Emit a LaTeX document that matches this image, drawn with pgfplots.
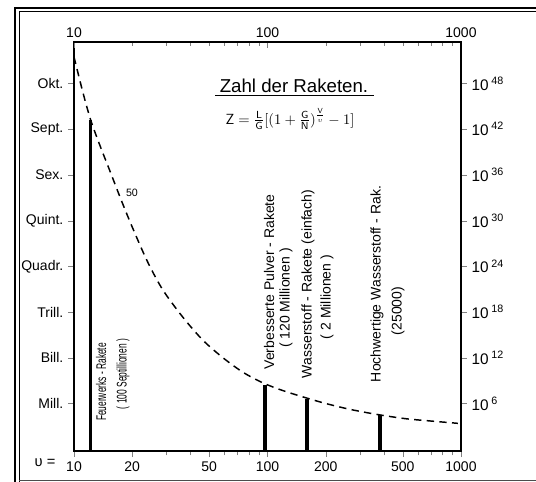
\documentclass[border=0pt]{standalone}
\usepackage{fontspec}
\setmainfont{Liberation Sans}
\usepackage{graphicx}
\usepackage{pgfplots}
\pgfplotsset{compat=1.18}
\begin{document}
\begin{tikzpicture}
\begin{scope}[x=0.75pt,y=-0.75pt]
\path[use as bounding box] (0,0) rectangle (536,482);
\draw[line width=0.9pt] (15,482)--(15,8)--(536,8);
\draw[line width=0.6pt] (19,482)--(19,11)--(536,11);
\draw[line width=1.2pt, black!70] (19,480.5)--(536,480.5);
\end{scope}
% main axis: box, bottom and left ticks, data
\begin{axis}[
  at={(55.5pt,-338.25pt)}, anchor=south west, scale only axis,
  width=290.25pt, height=306.75pt,
  xmode=log, ymode=log, xmin=10, xmax=1000, ymin=0.583, ymax=2.8e53,
  axis line style={line width=1.3pt},
  major tick length=4.5pt, minor tick length=3.2pt,
  tick label style={font=\fontsize{10.5}{12}\selectfont},
  xtick={10,20,50,100,200,500,1000},
  xticklabels={10,20,50,100,200,500,1000},
  minor xtick={30,40,60,70,80,90,300,400,600,700,800,900},
  xtick pos=bottom, ytick pos=left, tick align=outside,
  ytick={1e6,1e12,1e18,1e24,1e30,1e36,1e42,1e48},
  yticklabels={Mill.,Bill.,Trill.,Quadr.,Quint.,Sex.,Sept.,Okt.},
  yminorticks=false,
]
\addplot[black, line width=1.1pt, dash pattern=on 5.5pt off 4pt, smooth] coordinates {
(10,3.2e51) (11.1,7.9e46) (12.2,1.6e43) (13.6,7.9e39) (15.4,2.5e36) (17.6,4e32)
(20.2,7.9e28) (24,4e24) (28.8,7.9e20) (36.6,2e17) (46.4,2e14) (58.9,1e12)
(74.7,1.26e10) (94.8,5e8) (120,5e7) (151,7.9e6) (200,1e6) (270,1.6e5)
(372,3.5e4) (520,1e4) (700,5e3) (963,2.5e3)};
\addplot[black, line width=2.4pt] coordinates {(12.2,0.3) (12.2,1.6e43)};
\addplot[black, line width=2.6pt] coordinates {(97,0.3) (97,3e8)};
\addplot[black, line width=2.6pt] coordinates {(160,0.3) (160,4e6)};
\addplot[black, line width=2.4pt] coordinates {(381,0.3) (381,3.5e4)};
\end{axis}
% top axis
\begin{axis}[
  at={(55.5pt,-338.25pt)}, anchor=south west, scale only axis,
  width=290.25pt, height=306.75pt,
  xmode=log, ymode=log, xmin=10, xmax=1000, ymin=0.583, ymax=2.8e53,
  axis line style={line width=1.3pt},
  major tick length=4.5pt, minor tick length=3.2pt,
  tick label style={font=\fontsize{10.5}{12}\selectfont},
  hide y axis, axis x line*=top, tick align=inside,
  xtick={10,100,1000}, xticklabels={10,100,1000},
  minor xtick={20,30,40,50,60,70,80,90,200,300,400,500,600,700,800,900},
]
\end{axis}
% right axis
\begin{axis}[
  at={(55.5pt,-338.25pt)}, anchor=south west, scale only axis,
  width=290.25pt, height=306.75pt,
  xmode=log, ymode=log, xmin=10, xmax=1000, ymin=0.583, ymax=2.8e53,
  axis line style={line width=1.3pt},
  major tick length=4.5pt,
  hide x axis, axis y line*=right, tick align=outside, yminorticks=false,
  ytick={1e6,1e12,1e18,1e24,1e30,1e36,1e42,1e48},
  yticklabels={10\,\textsuperscript{6},10\,\textsuperscript{12},10\,\textsuperscript{18},10\,\textsuperscript{24},10\,\textsuperscript{30},10\,\textsuperscript{36},10\,\textsuperscript{42},10\,\textsuperscript{48}},
  yticklabel style={font=\fontsize{11.5}{13}\selectfont},
]
\end{axis}
\begin{scope}[x=0.75pt,y=-0.75pt]
\node[font=\fontsize{11}{12}\selectfont] at (45,463) {υ =};
\node[font=\fontsize{14}{16}\selectfont, anchor=base] at (294,92) {Zahl der Raketen.};
\draw[line width=0.9pt] (215,95.5)--(374,95.5);
\node[font=\fontsize{11}{13}\selectfont, inner sep=1pt] at (290,119) {$\mathsf{Z} = \frac{\mathsf{L}}{\mathsf{G}}\bigl[(1+\frac{\mathsf{G}}{\mathsf{N}})^{\frac{\mathsf{V}}{\upsilon}}-1\bigr]$};
\node[font=\fontsize{8}{9}\selectfont] at (132,193) {50};
\tikzset{rl/.style={rotate=90, font=\fontsize{10.5}{12}\selectfont, inner sep=0pt}}
\node[rl] at (101,382) {\scalebox{0.6}[1]{Feuerwerks - Rakete}};
\node[rl] at (123,374) {\scalebox{0.6}[1]{( 100 Septillionen )}};
\node[rl] at (269,282) {Verbesserte Pulver - Rakete};
\node[rl] at (286,298) {( 120 Millionen )};
\node[rl] at (308,284) {Wasserstoff - Rakete (einfach)};
\node[rl] at (327,297) {( 2 Millionen )};
\node[rl] at (377,284) {Hochwertige Wasserstoff - Rak.};
\node[rl] at (398,311) {(25000)};
\end{scope}
\end{tikzpicture}
\end{document}
